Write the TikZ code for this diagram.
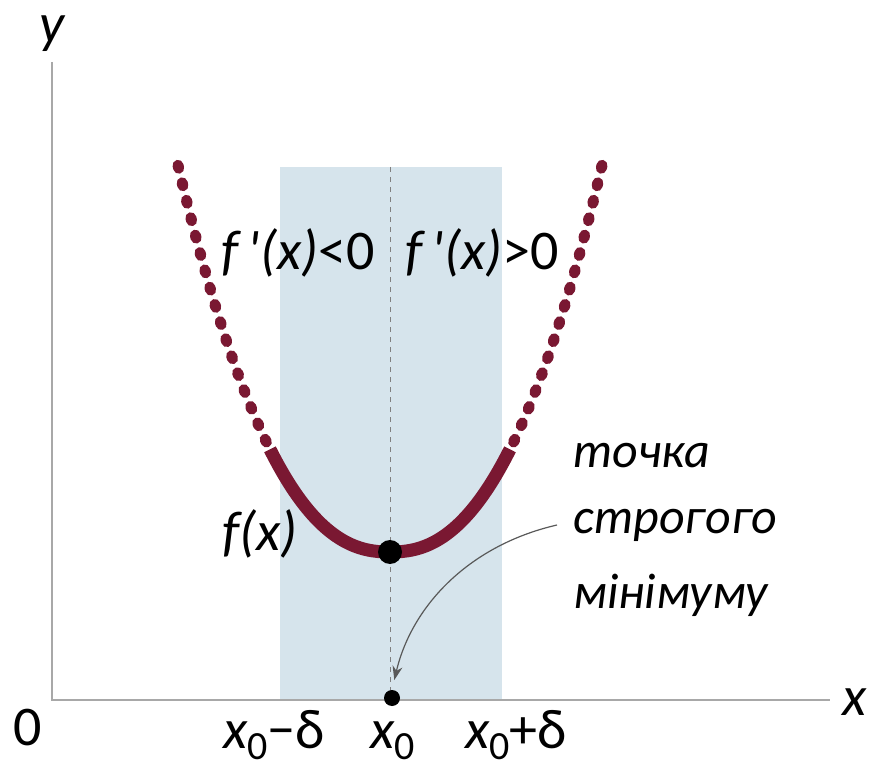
\documentclass[tikz,border=0pt]{standalone}
\usepackage{fontspec}
\setmainfont{Carlito}
\usetikzlibrary{arrows.meta}
\definecolor{curvec}{HTML}{7A1832}
\definecolor{bandc}{HTML}{D6E4EC}
\definecolor{axisc}{HTML}{A8A8A8}
\newcommand\subz{\raisebox{-11pt}{\fontsize{40}{40}\selectfont\upshape 0}}
\begin{document}
\begin{tikzpicture}[x=1pt,y=-1pt,
  axis/.style={draw=axisc,line width=2pt},
  mlab/.style={font=\fontsize{56}{60}\selectfont, inner sep=0pt, anchor=base},
  clab/.style={font=\fontsize{50}{54}\selectfont\itshape, inner sep=0pt, anchor=base west},
  dotp/.style={circle,fill=black,inner sep=0pt,minimum size=#1},
  dotted curve/.style={curvec, line width=11pt, line cap=round, dash pattern=on 3pt off 15pt},
  solid curve/.style={curvec, line width=13pt},
  guide/.style={draw=gray, line width=1pt, dash pattern=on 5pt off 5pt},
  pointer/.style={draw=gray!70!black, line width=1.2pt, -{Stealth[length=14pt,width=10pt]}},
]
\useasboundingbox (0,0) rectangle (871,770);
\fill[bandc] (280,167) rectangle (502,700);
\draw[axis] (52,62) -- (52,700) -- (830,700);
\draw[guide] (390,167) -- (390,700);
% curve
\draw[dotted curve] plot[domain=-2.12:-1.19, samples=40] ({390+100*\x},{552-67.15*abs(\x)^2.33});
\draw[dotted curve] plot[domain=2.12:1.19, samples=40] ({390+100*\x},{552-67.15*abs(\x)^2.33});
\draw[solid curve] plot[domain=-1.2:1.2, samples=81] ({390+100*\x},{552-67.15*max(abs(\x),0.001)^2.33});
\node[dotp=24pt] (vmin) at (390,552) {};
\node[dotp=16pt] (xdot) at (392,698) {};
% labels
\node[mlab] (ylab) at (52,43) {\itshape y};
\node[mlab] (xlab) at (855,715) {\itshape x};
\node[mlab] (zero) at (28,745) {0};
\node[mlab] (fneg) at (298,270) {{\itshape f\,\textquotesingle(x)}<0};
\node[mlab] (fpos) at (482,270) {{\itshape f\,\textquotesingle(x)}>0};
\node[mlab] (fx) at (260,550) {\itshape f(x)};
\node[clab] (c1) at (573,467) {точка};
\node[clab] (c2) at (573,533) {строгого};
\node[clab] (c3) at (573,608) {мінімуму};
\node[mlab] (xm) at (274,748) {{\itshape x}\subz\char"2212δ};
\node[mlab] (x0) at (393,748) {{\itshape x}\subz};
\node[mlab] (xp) at (516,748) {{\itshape x}\subz+δ};
\coordinate (astart) at (557,525);
\draw[pointer, shorten >=10pt] (astart) .. controls (470,545) and (412,605) .. (xdot.north);
\end{tikzpicture}
\end{document}
